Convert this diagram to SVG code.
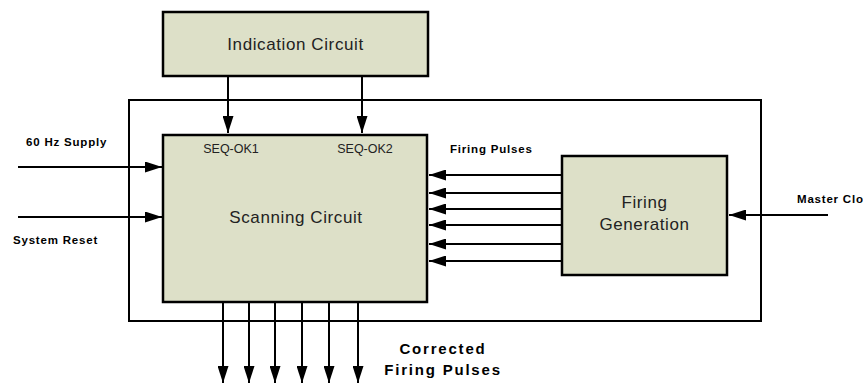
<svg xmlns="http://www.w3.org/2000/svg" width="863" height="383" viewBox="0 0 863 383">
<style>
.box{fill:#dde0c8;stroke:#000;stroke-width:2.5}
.frame{fill:none;stroke:#000;stroke-width:2}
.ln{fill:none;stroke:#000;stroke-width:2;marker-end:url(#ah)}
.t{font-family:"Liberation Sans",Arial,sans-serif;fill:#222}
.big{font-size:17px;text-anchor:middle;letter-spacing:0.6px}
.sm{font-size:12.5px;text-anchor:middle}
.lb{font-family:"Liberation Sans",Arial,sans-serif;font-weight:bold;fill:#000;font-size:11.5px;letter-spacing:0.8px}
.cf{font-family:"Liberation Sans",Arial,sans-serif;font-weight:bold;fill:#000;font-size:15px;letter-spacing:1.8px;text-anchor:middle}
</style>
<defs>
<marker id="ah" markerUnits="userSpaceOnUse" markerWidth="17" markerHeight="11" refX="17" refY="5.5" orient="auto">
<path d="M0,0 L17,5.5 L0,11 z" fill="#000"/>
</marker>
</defs>
<rect id="frame" class="frame" x="129" y="100" width="632" height="221"/>
<g id="indication">
<rect class="box" x="163" y="12" width="265" height="64"/>
<text class="t big" x="295.5" y="50">Indication Circuit</text>
</g>
<g id="scanning">
<rect class="box" x="163" y="135" width="264" height="167"/>
<text class="t big" x="296" y="223">Scanning Circuit</text>
<text class="t sm" x="231" y="153">SEQ-OK1</text>
<text class="t sm" x="365" y="153">SEQ-OK2</text>
</g>
<g id="firing">
<rect class="box" x="562" y="156" width="165" height="119"/>
<text class="t big" x="644.5" y="208">Firing</text>
<text class="t big" x="644.5" y="230">Generation</text>
</g>
<g id="connectors">
<line class="ln" x1="228" y1="76" x2="228" y2="133"/>
<line class="ln" x1="362" y1="76" x2="362" y2="133"/>
<line class="ln" x1="18" y1="167" x2="162" y2="167"/>
<line class="ln" x1="18" y1="217" x2="162" y2="217"/>
<line class="ln" x1="562" y1="175" x2="429" y2="175"/>
<line class="ln" x1="562" y1="193" x2="429" y2="193"/>
<line class="ln" x1="562" y1="209" x2="429" y2="209"/>
<line class="ln" x1="562" y1="225" x2="429" y2="225"/>
<line class="ln" x1="562" y1="244" x2="429" y2="244"/>
<line class="ln" x1="562" y1="261" x2="429" y2="261"/>
<line class="ln" x1="828" y1="215" x2="729" y2="215"/>
<line class="ln" x1="223" y1="302" x2="223" y2="383"/>
<line class="ln" x1="249" y1="302" x2="249" y2="383"/>
<line class="ln" x1="275" y1="302" x2="275" y2="383"/>
<line class="ln" x1="302" y1="302" x2="302" y2="383"/>
<line class="ln" x1="329" y1="302" x2="329" y2="383"/>
<line class="ln" x1="358" y1="302" x2="358" y2="383"/>
</g>
<g id="labels">
<text class="lb" x="26" y="146">60 Hz Supply</text>
<text class="lb" x="13" y="244">System Reset</text>
<text class="lb" x="450" y="153">Firing Pulses</text>
<text class="lb" x="797" y="203">Master Clock</text>
<text class="cf" x="443" y="354">Corrected</text>
<text class="cf" x="443" y="375">Firing Pulses</text>
</g>
</svg>
